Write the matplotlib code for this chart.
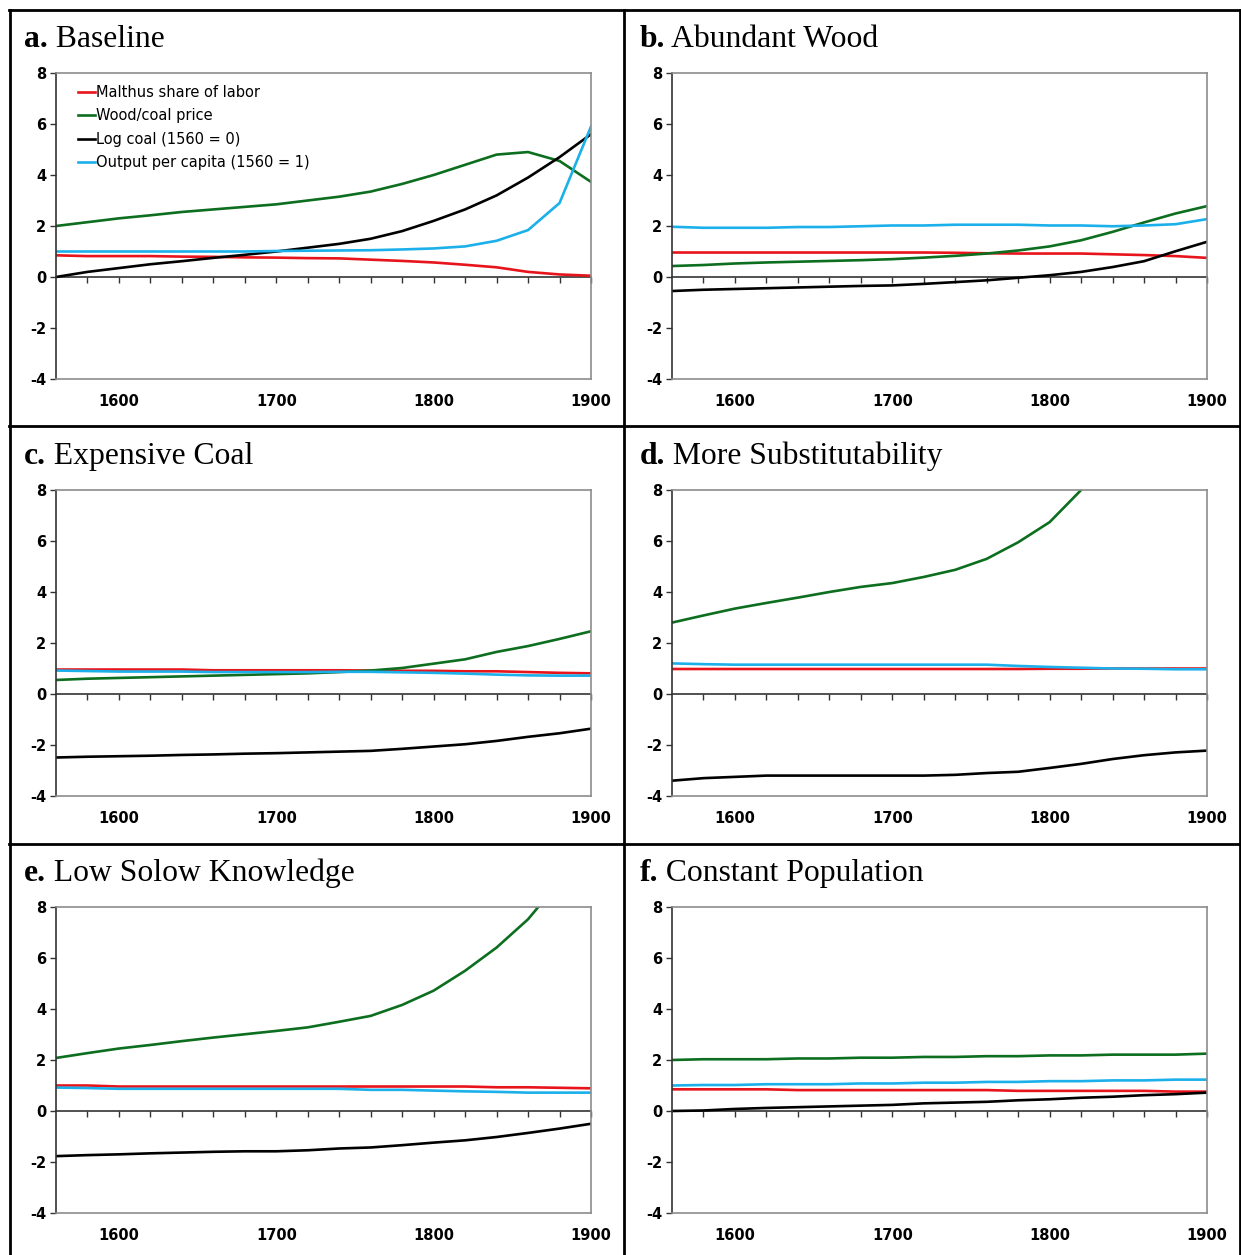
import matplotlib.pyplot as plt
from matplotlib.lines import Line2D

plt.rcParams['axes.unicode_minus'] = False

# years simulated, every 20 years
years = list(range(1560, 1901, 20))

# a. Baseline
a_malthus = [0.85, 0.82, 0.82, 0.82, 0.80, 0.79, 0.77, 0.76, 0.74, 0.73, 0.68, 0.63, 0.57, 0.48, 0.38, 0.20, 0.10, 0.05]
a_price = [2.0, 2.15, 2.3, 2.42, 2.55, 2.65, 2.75, 2.85, 3.0, 3.15, 3.35, 3.65, 4.0, 4.4, 4.8, 4.9, 4.55, 3.73]
a_coal = [0.0, 0.2, 0.35, 0.5, 0.62, 0.75, 0.87, 1.0, 1.15, 1.3, 1.5, 1.8, 2.2, 2.65, 3.2, 3.9, 4.7, 5.6]
a_output = [1.0, 1.0, 1.0, 1.0, 1.0, 1.0, 1.0, 1.02, 1.03, 1.04, 1.05, 1.08, 1.12, 1.2, 1.42, 1.84, 2.9, 5.9]

# b. Abundant Wood
b_malthus = [0.96, 0.96, 0.96, 0.96, 0.96, 0.96, 0.96, 0.96, 0.96, 0.95, 0.93, 0.92, 0.92, 0.92, 0.89, 0.86, 0.82, 0.75]
b_price = [0.43, 0.47, 0.53, 0.57, 0.6, 0.63, 0.66, 0.7, 0.76, 0.83, 0.92, 1.04, 1.2, 1.44, 1.77, 2.14, 2.49, 2.78]
b_coal = [-0.55, -0.5, -0.47, -0.44, -0.41, -0.38, -0.35, -0.33, -0.27, -0.2, -0.13, -0.03, 0.07, 0.2, 0.39, 0.62, 1.01, 1.38]
b_output = [1.97, 1.93, 1.93, 1.93, 1.96, 1.96, 1.99, 2.02, 2.02, 2.05, 2.05, 2.05, 2.02, 2.02, 1.99, 2.02, 2.07, 2.27]

# c. Expensive Coal
c_malthus = [0.96, 0.96, 0.96, 0.96, 0.96, 0.93, 0.93, 0.93, 0.93, 0.93, 0.92, 0.91, 0.91, 0.89, 0.89, 0.86, 0.83, 0.81]
c_price = [0.55, 0.6, 0.63, 0.66, 0.69, 0.72, 0.75, 0.78, 0.81, 0.86, 0.92, 1.02, 1.19, 1.36, 1.65, 1.88, 2.16, 2.46]
c_coal = [-2.49, -2.46, -2.44, -2.42, -2.39, -2.37, -2.34, -2.32, -2.29, -2.26, -2.23, -2.15, -2.06, -1.97, -1.84, -1.68, -1.54, -1.36]
c_output = [0.92, 0.9, 0.88, 0.88, 0.88, 0.86, 0.86, 0.86, 0.86, 0.87, 0.87, 0.85, 0.83, 0.8, 0.76, 0.73, 0.72, 0.72]

# d. More Substitutability
d_malthus = [0.98, 0.98, 0.98, 0.98, 0.98, 0.98, 0.98, 0.98, 0.98, 0.98, 0.98, 0.98, 0.99, 0.99, 1.0, 1.0, 1.0, 1.0]
d_price = [2.8, 3.08, 3.35, 3.57, 3.78, 4.0, 4.2, 4.35, 4.59, 4.87, 5.3, 5.95, 6.74, 8.0, 9.8, 12.0, 14.5, 17.5]
d_coal = [-3.4, -3.3, -3.25, -3.2, -3.2, -3.2, -3.2, -3.2, -3.2, -3.17, -3.1, -3.05, -2.9, -2.74, -2.55, -2.4, -2.29, -2.22]
d_output = [1.2, 1.17, 1.15, 1.15, 1.15, 1.15, 1.15, 1.15, 1.15, 1.15, 1.15, 1.1, 1.06, 1.03, 1.0, 0.99, 0.97, 0.97]

# e. Low Solow Knowledge
e_malthus = [1.0, 1.0, 0.96, 0.96, 0.96, 0.96, 0.96, 0.96, 0.96, 0.96, 0.96, 0.96, 0.96, 0.96, 0.93, 0.93, 0.91, 0.89]
e_price = [2.08, 2.27, 2.45, 2.59, 2.74, 2.88, 3.01, 3.14, 3.28, 3.5, 3.73, 4.16, 4.72, 5.5, 6.41, 7.52, 9.0, 10.8]
e_coal = [-1.77, -1.73, -1.7, -1.66, -1.63, -1.6, -1.58, -1.58, -1.54, -1.47, -1.43, -1.34, -1.24, -1.15, -1.02, -0.86, -0.69, -0.5]
e_output = [0.92, 0.9, 0.87, 0.87, 0.87, 0.87, 0.87, 0.87, 0.87, 0.87, 0.83, 0.83, 0.8, 0.77, 0.75, 0.72, 0.72, 0.72]

# f. Constant Population
f_malthus = [0.85, 0.85, 0.85, 0.85, 0.82, 0.82, 0.82, 0.82, 0.82, 0.82, 0.82, 0.79, 0.79, 0.79, 0.79, 0.79, 0.76, 0.76]
f_price = [2.0, 2.03, 2.03, 2.03, 2.06, 2.06, 2.09, 2.09, 2.12, 2.12, 2.15, 2.15, 2.18, 2.18, 2.21, 2.21, 2.21, 2.25]
f_coal = [0.0, 0.02, 0.08, 0.12, 0.15, 0.18, 0.21, 0.24, 0.3, 0.33, 0.36, 0.42, 0.46, 0.52, 0.56, 0.62, 0.66, 0.72]
f_output = [1.0, 1.02, 1.02, 1.05, 1.05, 1.05, 1.08, 1.08, 1.11, 1.11, 1.14, 1.14, 1.17, 1.17, 1.2, 1.2, 1.23, 1.23]

letters = ["a.", "b.", "c.", "d.", "e.", "f."]
titles = ["Baseline", "Abundant Wood", "Expensive Coal", "More Substitutability",
          "Low Solow Knowledge", "Constant Population"]
series_names = ["Malthus share of labor", "Wood/coal price", "Log coal (1560 = 0)",
                "Output per capita (1560 = 1)"]
colors = ["#e8141b", "#0c6e1e", "#000000", "#1cb0ea"]

panels = [
    (a_malthus, a_price, a_coal, a_output),
    (b_malthus, b_price, b_coal, b_output),
    (c_malthus, c_price, c_coal, c_output),
    (d_malthus, d_price, d_coal, d_output),
    (e_malthus, e_price, e_coal, e_output),
    (f_malthus, f_price, f_coal, f_output),
]

W, H = 1241, 1255
fig = plt.figure(figsize=(W / 100, H / 100), dpi=100)
fig.patch.set_facecolor("white")


def fx(px):
    return px / W


def fy(py):
    return 1 - py / H


# table grid lines
def rule(x0, y0, x1, y1):
    fig.add_artist(Line2D([fx(x0), fx(x1)], [fy(y0), fy(y1)], transform=fig.transFigure,
                          color="black", lw=2))


rule(9, 10, 1241, 10)
rule(10, 10, 10, 1255)
rule(1240, 10, 1240, 1255)
rule(624, 10, 624, 1255)
rule(9, 426, 1241, 426)
rule(9, 844, 1241, 844)

row_step = 417
for i, data in enumerate(panels):
    row, col = divmod(i, 2)
    left = 56 if col == 0 else 672
    top = 73 + row * row_step
    ax = fig.add_axes([fx(left), fy(top + 306), fx(535), 306 / H])

    for vals, name, c in zip(data, series_names, colors):
        ax.plot(years, vals, color=c, lw=1.9, label=name, solid_joinstyle="round")

    ax.set_xlim(1560, 1900)
    ax.set_ylim(-4, 8)
    ax.set_yticks(range(-4, 9, 2))
    ax.set_xticks([1600, 1700, 1800, 1900])
    ax.tick_params(axis="x", length=0, pad=11, labelsize=10.5)
    ax.tick_params(axis="y", length=4, width=1, pad=3, labelsize=10.5, color="#333333")
    for lab in ax.get_xticklabels() + ax.get_yticklabels():
        lab.set_fontweight("bold")
    for side in ["top", "right", "bottom"]:
        ax.spines[side].set_color("#8c8c8c")
        ax.spines[side].set_linewidth(1.2)
    ax.spines["left"].set_color("#333333")
    ax.spines["left"].set_linewidth(1.2)

    # zero line with year ticks
    sec = ax.secondary_xaxis(1 / 3)
    sec.set_xticks(years[1:], labels=[])
    sec.tick_params(direction="out", length=4.5, width=1, color="#333333")
    sec.spines["bottom"].set_color("#333333")
    sec.spines["bottom"].set_linewidth(1.2)

    if i == 0:
        ax.legend(loc="upper left", bbox_to_anchor=(0.042, 0.962), frameon=False,
                  fontsize=10.5, handlelength=1.15, handletextpad=0.05,
                  labelspacing=0.59, borderpad=0, borderaxespad=0)

    tx = 24 if col == 0 else 640
    ty = 47 + row * row_step
    t = fig.text(fx(tx), fy(ty), letters[i], fontsize=22.8, fontweight="bold",
                 family="Liberation Serif", va="baseline", ha="left")
    fig.add_artist(plt.matplotlib.text.Annotation(
        " " + titles[i], xy=(1, 0), xycoords=t, xytext=(0, 0),
        textcoords="offset points", fontsize=22.8, family="Liberation Serif",
        va="bottom", ha="left"))

fig.savefig("out.png", dpi=100)
